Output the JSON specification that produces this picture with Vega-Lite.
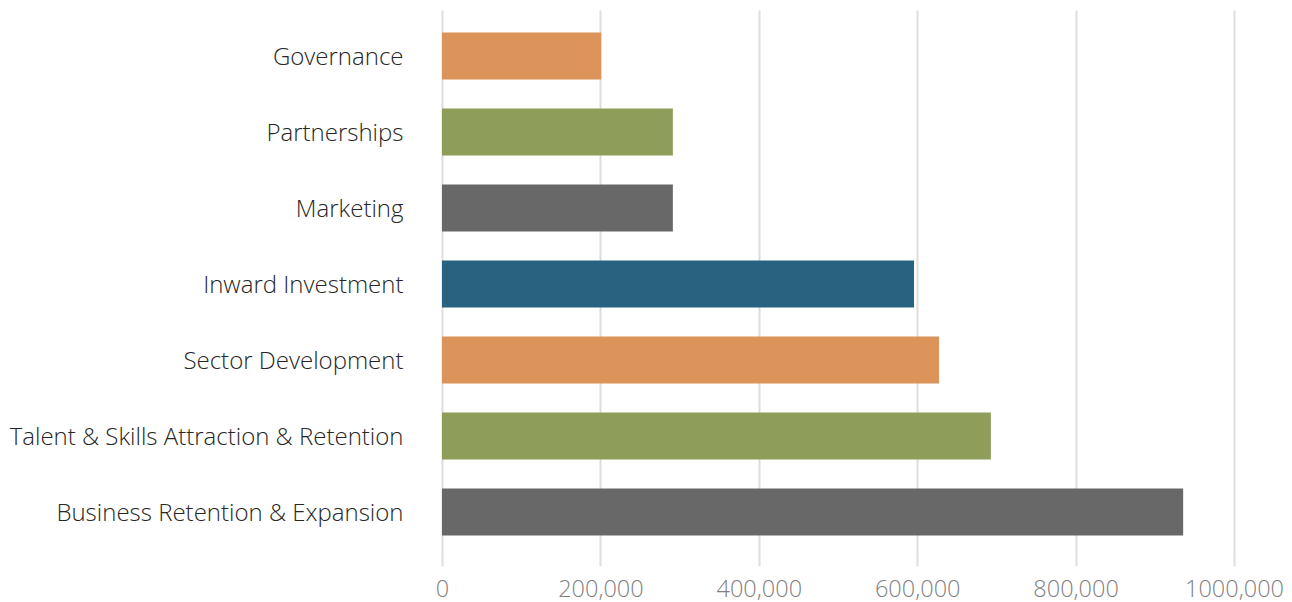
{
  "$schema": "https://vega.github.io/schema/vega-lite/v6.json",
  "autosize": "none",
  "width": 792,
  "height": 548,
  "padding": {"left": 442, "top": 10, "right": 58, "bottom": 44},
  "background": "white",
  "config": {
    "view": {"stroke": null},
    "font": "Open Sans"
  },
  "data": {
    "values": [
      {"category": "Governance", "value": 201000},
      {"category": "Partnerships", "value": 291500},
      {"category": "Marketing", "value": 291500},
      {"category": "Inward Investment", "value": 596000},
      {"category": "Sector Development", "value": 627500},
      {"category": "Talent & Skills Attraction & Retention", "value": 693000},
      {"category": "Business Retention & Expansion", "value": 935800}
    ]
  },
  "mark": {"type": "bar"},
  "encoding": {
    "y": {
      "field": "category",
      "type": "nominal",
      "sort": null,
      "scale": {"paddingInner": 0.382, "paddingOuter": 0.296},
      "axis": {
        "title": null,
        "domain": false,
        "ticks": false,
        "labelPadding": 39,
        "labelOffset": 2,
        "labelFont": "Open Sans",
        "labelFontWeight": 300,
        "labelFontSize": 24,
        "labelColor": "#262626",
        "labelLimit": 500
      }
    },
    "x": {
      "field": "value",
      "type": "quantitative",
      "scale": {"domain": [0, 1000000], "nice": false},
      "axis": {
        "title": null,
        "values": [0, 200000, 400000, 600000, 800000, 1000000],
        "labelExpr": "datum.value == 1000000 ? '1000,000' : format(datum.value, ',')",
        "domain": false,
        "ticks": true,
        "tickSize": 8,
        "tickColor": "#dedede",
        "tickWidth": 2,
        "grid": true,
        "gridColor": "#dedede",
        "gridWidth": 2,
        "labelPadding": 11,
        "labelFont": "Open Sans",
        "labelFontWeight": 300,
        "labelFontSize": 23.5,
        "labelColor": "#7f7f7f",
        "labelFlush": false
      }
    },
    "color": {
      "field": "category",
      "type": "nominal",
      "legend": null,
      "scale": {
        "domain": ["Governance", "Partnerships", "Marketing", "Inward Investment", "Sector Development", "Talent & Skills Attraction & Retention", "Business Retention & Expansion"],
        "range": ["#DC945A", "#8F9D5A", "#686868", "#296280", "#DC945A", "#8F9D5A", "#686868"]
      }
    }
  }
}
